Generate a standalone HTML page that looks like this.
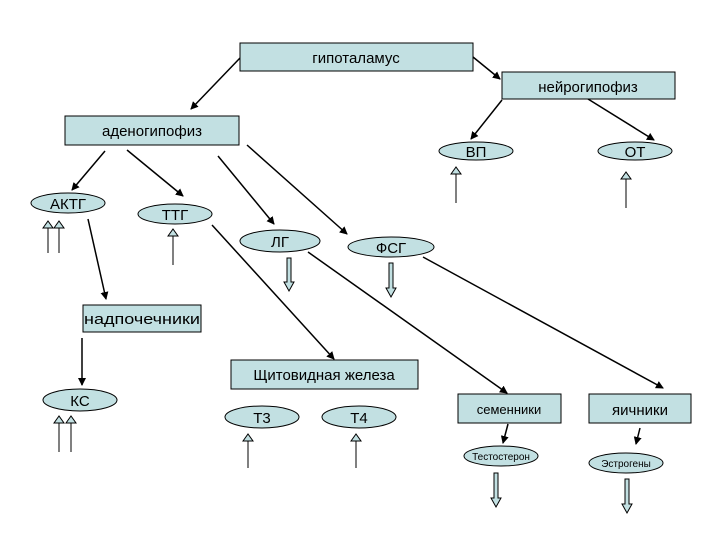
<!DOCTYPE html>
<html><head><meta charset="utf-8"><style>body{margin:0;background:#fff}svg{display:block}text{font-family:"Liberation Sans",sans-serif;fill:#000}</style></head>
<body>
<svg width="720" height="540" viewBox="0 0 720 540" xmlns="http://www.w3.org/2000/svg">
<defs>
<marker id="a" markerWidth="8" markerHeight="8" refX="7" refY="4" orient="auto" markerUnits="userSpaceOnUse"><path d="M0,0 L8,4 L0,8 Z" fill="#000"/></marker>
</defs>
<g fill="#c2e0e2" stroke="#000" stroke-width="1">
<rect x="240" y="43" width="233" height="28"/>
<rect x="502" y="72" width="173" height="27"/>
<rect x="65" y="116" width="174" height="29"/>
<rect x="83" y="305" width="118" height="27"/>
<rect x="231" y="360" width="187" height="29"/>
<rect x="458" y="394" width="103" height="29"/>
<rect x="589" y="394" width="102" height="29"/>
<ellipse cx="476" cy="151" rx="37" ry="9"/>
<ellipse cx="635" cy="151" rx="37" ry="9"/>
<ellipse cx="68" cy="203" rx="37" ry="10"/>
<ellipse cx="175" cy="214" rx="37" ry="10"/>
<ellipse cx="280" cy="241" rx="40" ry="11"/>
<ellipse cx="391" cy="247" rx="43" ry="10"/>
<ellipse cx="80" cy="400" rx="37" ry="11"/>
<ellipse cx="262" cy="417" rx="37" ry="11"/>
<ellipse cx="359" cy="417" rx="37" ry="11"/>
<ellipse cx="501" cy="456" rx="37" ry="10"/>
<ellipse cx="626" cy="463" rx="37" ry="10"/>
</g>
<g stroke="#000" stroke-width="1.5" marker-end="url(#a)">
<line x1="240" y1="58" x2="191" y2="109"/>
<line x1="473" y1="57" x2="500" y2="79"/>
<line x1="502" y1="100" x2="471" y2="139"/>
<line x1="588" y1="99" x2="654" y2="140"/>
<line x1="105" y1="151" x2="72" y2="190"/>
<line x1="127" y1="150" x2="183" y2="196"/>
<line x1="218" y1="156" x2="274" y2="224"/>
<line x1="247" y1="145" x2="347" y2="234"/>
<line x1="88" y1="219" x2="106" y2="299"/>
<line x1="212" y1="225" x2="334" y2="359"/>
<line x1="308" y1="252" x2="507" y2="393"/>
<line x1="423" y1="257" x2="663" y2="388"/>
<line x1="82" y1="338" x2="82" y2="385"/>
<line x1="508" y1="424" x2="503" y2="443"/>
<line x1="640" y1="428" x2="636" y2="444"/>
</g>
<g stroke="#000" stroke-width="1" fill="#c2e0e2">
<line x1="48" y1="228" x2="48" y2="253"/><path d="M43,228 L48,221 L53,228 Z"/>
<line x1="59" y1="228" x2="59" y2="253"/><path d="M54,228 L59,221 L64,228 Z"/>
<line x1="173" y1="236" x2="173" y2="265"/><path d="M168,236 L173,229 L178,236 Z"/>
<line x1="456" y1="174" x2="456" y2="203"/><path d="M451,174 L456,167 L461,174 Z"/>
<line x1="626" y1="179" x2="626" y2="208"/><path d="M621,179 L626,172 L631,179 Z"/>
<line x1="59" y1="423" x2="59" y2="452"/><path d="M54,423 L59,416 L64,423 Z"/>
<line x1="71" y1="423" x2="71" y2="452"/><path d="M66,423 L71,416 L76,423 Z"/>
<line x1="248" y1="441" x2="248" y2="468"/><path d="M243,441 L248,434 L253,441 Z"/>
<line x1="356" y1="441" x2="356" y2="468"/><path d="M351,441 L356,434 L361,441 Z"/>
<path d="M287,258 L291,258 L291,282 L294,282 L289,291 L284,282 L287,282 Z"/>
<path d="M389,263 L393,263 L393,288 L396,288 L391,297 L386,288 L389,288 Z"/>
<path d="M494,473 L498,473 L498,498 L501,498 L496,507 L491,498 L494,498 Z"/>
<path d="M625,479 L629,479 L629,504 L632,504 L627,513 L622,504 L625,504 Z"/>
</g>
<g font-size="15" text-anchor="middle">
<text x="356" y="63">гипоталамус</text>
<text x="588" y="92">нейрогипофиз</text>
<text x="152" y="136">аденогипофиз</text>
<text x="142" y="324" textLength="116" lengthAdjust="spacingAndGlyphs">надпочечники</text>
<text x="324" y="380">Щитовидная железа</text>
<text x="509" y="414" font-size="13">семенники</text>
<text x="640" y="415">яичники</text>
<text x="476" y="157">ВП</text>
<text x="635" y="157">ОТ</text>
<text x="68" y="209">АКТГ</text>
<text x="175" y="220">ТТГ</text>
<text x="280" y="247">ЛГ</text>
<text x="391" y="253">ФСГ</text>
<text x="80" y="406">КС</text>
<text x="262" y="423">Т3</text>
<text x="359" y="423">Т4</text>
<text x="501" y="460" font-size="10">Тестостерон</text>
<text x="626" y="467" font-size="10">Эстрогены</text>
</g>
</svg>
</body></html>
